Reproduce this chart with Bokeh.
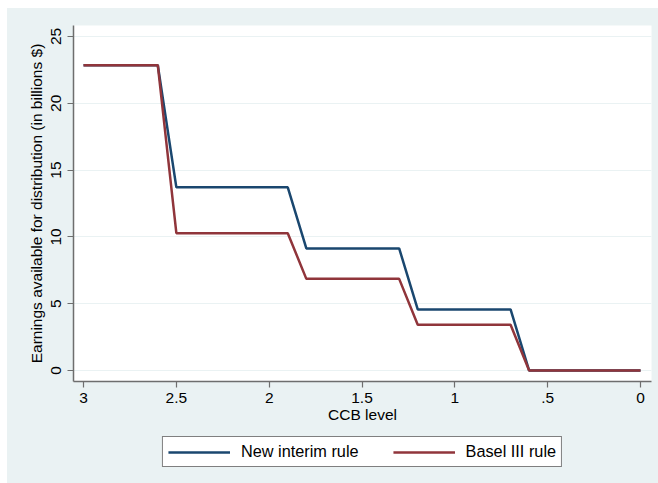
from bokeh.plotting import figure
from bokeh.layouts import column
from bokeh.models import Range1d, FixedTicker, CustomJSTickFormatter, Legend, LegendItem
from bokeh.embed import file_html
from bokeh.resources import INLINE

# Data
ccb_level = [3.0, 2.6, 2.5, 1.9, 1.8, 1.3, 1.2, 0.7, 0.6, 0.0]
new_interim = [22.85, 22.85, 13.71, 13.71, 9.14, 9.14, 4.57, 4.57, 0.0, 0.0]
basel_iii = [22.85, 22.85, 10.28, 10.28, 6.86, 6.86, 3.43, 3.43, 0.0, 0.0]
x_ticks = [3, 2.5, 2, 1.5, 1, 0.5, 0]
x_tick_labels = ["3", "2.5", "2", "1.5", "1", ".5", "0"]
y_ticks = [0, 5, 10, 15, 20, 25]
series_names = ["New interim rule", "Basel III rule"]

BG = "#EAF2F3"
NAVY = "#1A476F"
MAROON = "#90353B"
FONT = "Liberation Sans"
LW = 2.5

p = figure(width=651, height=420, output_backend="svg", toolbar_location=None,
           x_range=Range1d(3.054, -0.059), y_range=Range1d(-0.82, 25.82),
           min_border_left=66, min_border_right=7, min_border_top=17, min_border_bottom=47)
p.border_fill_color = BG
p.background_fill_color = "white"
p.outline_line_color = None

p.line(ccb_level, new_interim, line_color=NAVY, line_width=LW)
p.line(ccb_level, basel_iii, line_color=MAROON, line_width=LW)

p.xgrid.grid_line_color = None
p.ygrid.grid_line_color = BG
p.ygrid.grid_line_width = 1.2

p.xaxis.ticker = FixedTicker(ticks=x_ticks)
p.xaxis.formatter = CustomJSTickFormatter(args=dict(tvals=x_ticks, tlabels=x_tick_labels), code="""
let best = 0;
for (let i = 0; i < tvals.length; i++) {
  if (Math.abs(tvals[i] - tick) < Math.abs(tvals[best] - tick)) best = i;
}
return tlabels[best];
""")
p.yaxis.ticker = FixedTicker(ticks=y_ticks)
p.yaxis.major_label_orientation = "vertical"

for ax in (p.xaxis[0], p.yaxis[0]):
    ax.axis_line_color = "#6E6E6E"
    ax.axis_line_width = 1.5
    ax.major_tick_line_color = "#6E6E6E"
    ax.major_tick_line_width = 1.2
    ax.major_tick_out = 6
    ax.major_tick_in = 0
    ax.minor_tick_line_color = None
    ax.major_label_text_font = FONT
    ax.major_label_text_font_size = "15.5px"
    ax.major_label_text_color = "black"
    ax.axis_label_text_font = FONT
    ax.axis_label_text_font_size = "15.5px"
    ax.axis_label_text_font_style = "normal"
    ax.axis_label_text_color = "black"

p.xaxis.axis_label = "CCB level"
p.xaxis.major_label_standoff = 5
p.xaxis.axis_label_standoff = 0
p.yaxis.axis_label = "Earnings available for distribution (in billions $)"
p.yaxis.major_label_standoff = 6
p.yaxis.axis_label_standoff = 4

# Legend panel (separate strip below the plot)
lg = figure(width=651, height=55, output_backend="svg", toolbar_location=None,
            x_axis_type=None, y_axis_type=None,
            x_range=Range1d(10, 11), y_range=Range1d(100, 101),
            min_border_left=66, min_border_right=7, min_border_top=0, min_border_bottom=0)
lg.border_fill_color = BG
lg.background_fill_color = BG
lg.outline_line_color = None
l1 = lg.line(ccb_level, new_interim, line_color=NAVY, line_width=LW)
l2 = lg.line(ccb_level, basel_iii, line_color=MAROON, line_width=LW)

legend = Legend(items=[LegendItem(label=series_names[0], renderers=[l1]),
                       LegendItem(label=series_names[1], renderers=[l2])],
                orientation="horizontal", location="top_center")
legend.glyph_width = 62
legend.glyph_height = 14
legend.label_standoff = 11
legend.spacing = 34
legend.padding = 5
legend.margin = 8
legend.border_line_color = "black"
legend.border_line_width = 1
legend.background_fill_color = "white"
legend.background_fill_alpha = 1
legend.label_text_font = FONT
legend.label_text_font_size = "16.3px"
legend.label_text_color = "black"
lg.add_layout(legend, "center")

layout = column(p, lg, spacing=0)
layout.margin = (8, 0, 0, 7)
layout.styles = {"background-color": BG}

open("out.html", "w").write(file_html(layout, INLINE))
